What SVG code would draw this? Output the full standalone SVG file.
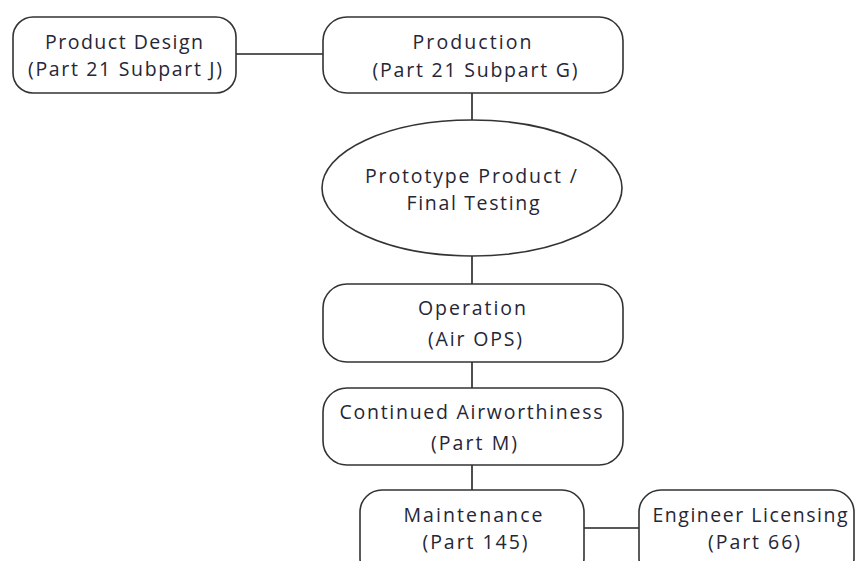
<svg xmlns="http://www.w3.org/2000/svg" width="856" height="561" viewBox="0 0 856 561">
<style>
.n{fill:#fff;stroke:#333;stroke-width:1.6}
.c{stroke:#222;stroke-width:1.6;fill:none}
text{font-family:"Open Sans","Liberation Sans",sans-serif;font-size:19.5px;font-weight:500;fill:#262636;text-anchor:middle}
</style>
<rect width="856" height="561" fill="#fff"/>
<g id="connectors">
<line class="c" x1="236" y1="54" x2="323" y2="54"/>
<line class="c" x1="472" y1="93" x2="472" y2="120"/>
<line class="c" x1="472" y1="256" x2="472" y2="284"/>
<line class="c" x1="472" y1="362" x2="472" y2="388"/>
<line class="c" x1="472" y1="465" x2="472" y2="490"/>
<line class="c" x1="584" y1="528" x2="639" y2="528"/>
</g>
<g id="product-design">
<rect class="n" x="13" y="17" width="223" height="76" rx="20"/>
<text x="124" y="49" textLength="158" lengthAdjust="spacing">Product Design</text>
<text x="125" y="76" textLength="194" lengthAdjust="spacing">(Part 21 Subpart J)</text>
</g>
<g id="production">
<rect class="n" x="323" y="17" width="300" height="76" rx="24"/>
<text x="472" y="49" textLength="119" lengthAdjust="spacing">Production</text>
<text x="475" y="77" textLength="205" lengthAdjust="spacing">(Part 21 Subpart G)</text>
</g>
<g id="prototype">
<ellipse class="n" cx="472" cy="188" rx="150" ry="68"/>
<text x="471" y="183" textLength="212" lengthAdjust="spacing">Prototype Product /</text>
<text x="473" y="210" textLength="133" lengthAdjust="spacing">Final Testing</text>
</g>
<g id="operation">
<rect class="n" x="323" y="284" width="300" height="78" rx="24"/>
<text x="472" y="315" textLength="108" lengthAdjust="spacing">Operation</text>
<text x="475" y="346" textLength="94" lengthAdjust="spacing">(Air OPS)</text>
</g>
<g id="continued-airworthiness">
<rect class="n" x="323" y="388" width="300" height="77" rx="24"/>
<text x="471" y="419" textLength="263" lengthAdjust="spacing">Continued Airworthiness</text>
<text x="474" y="450" textLength="86" lengthAdjust="spacing">(Part M)</text>
</g>
<g id="maintenance">
<rect class="n" x="360" y="490" width="224" height="90" rx="22"/>
<text x="473" y="522" textLength="139" lengthAdjust="spacing">Maintenance</text>
<text x="475" y="549" textLength="105" lengthAdjust="spacing">(Part 145)</text>
</g>
<g id="engineer-licensing">
<rect class="n" x="639" y="490" width="215" height="90" rx="22"/>
<text x="750" y="522" textLength="195" lengthAdjust="spacing">Engineer Licensing</text>
<text x="754" y="549" textLength="92" lengthAdjust="spacing">(Part 66)</text>
</g>
</svg>
